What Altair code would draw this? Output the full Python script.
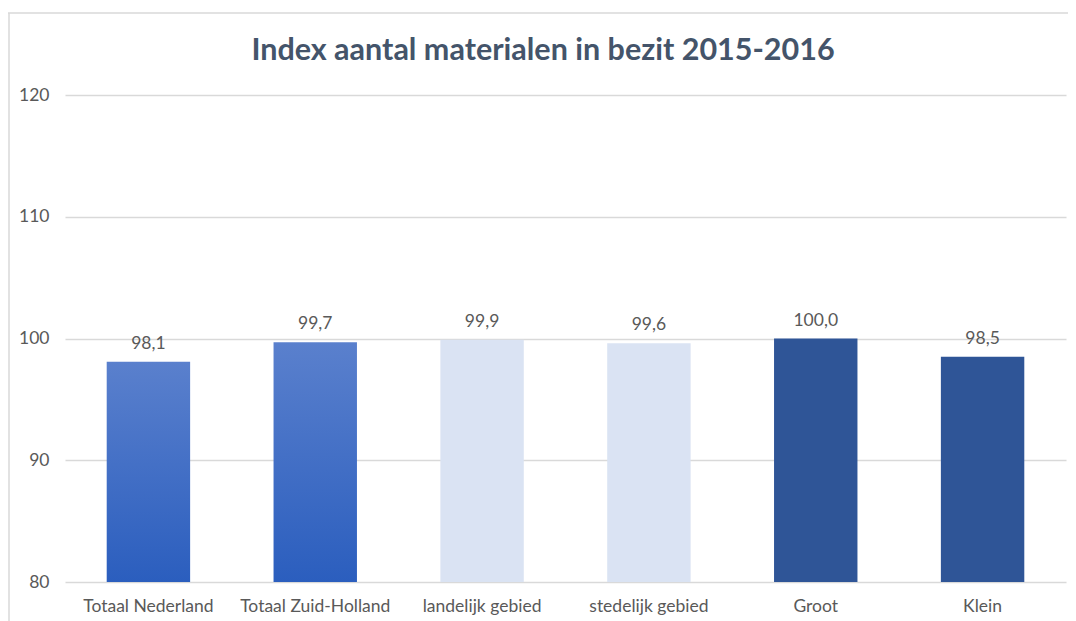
import altair as alt
import pandas as pd

title_text = "Index aantal materialen in bezit 2015-2016"
categories = ["Totaal Nederland", "Totaal Zuid-Holland", "landelijk gebied",
              "stedelijk gebied", "Groot", "Klein"]
values = [98.1, 99.7, 99.9, 99.6, 100.0, 98.5]
groups = ["totaal", "totaal", "gebied", "gebied", "grootte", "grootte"]
y_ticks = [80, 90, 100, 110, 120]

df = pd.DataFrame({"categorie": categories, "index": values, "groep": groups})

FONT = "Lato"
LABEL_COLOR = "#595959"

x_enc = alt.X("categorie:N", sort=categories, title=None,
              scale=alt.Scale(paddingInner=0.5, paddingOuter=0.25),
              axis=alt.Axis(labelAngle=0, labelFont=FONT, labelFontSize=17.5,
                            labelColor=LABEL_COLOR, labelPadding=15,
                            domain=False, ticks=False, grid=False))
y_enc = alt.Y("index:Q", title=None,
              scale=alt.Scale(domain=[80, 120], nice=False, zero=False),
              axis=alt.Axis(values=y_ticks, labelFont=FONT, labelFontSize=17.5,
                            labelColor=LABEL_COLOR, labelPadding=16,
                            domain=False, ticks=False, grid=True,
                            gridColor="#D9D9D9", gridWidth=1.3))

base = alt.Chart(df).encode(x=x_enc)

gradient = alt.Gradient(
    gradient="linear",
    stops=[alt.GradientStop(color="#5A80CD", offset=0),
           alt.GradientStop(color="#2B5EBE", offset=1)],
    x1=0, x2=0, y1=0, y2=1)

bars_grad = base.transform_filter(alt.datum.groep == "totaal").mark_bar(
    color=gradient).encode(y=y_enc, y2=alt.datum(80))
bars_light = base.transform_filter(alt.datum.groep == "gebied").mark_bar(
    color="#DAE3F3").encode(y=y_enc, y2=alt.datum(80))
bars_dark = base.transform_filter(alt.datum.groep == "grootte").mark_bar(
    color="#2F5597").encode(y=y_enc, y2=alt.datum(80))

labels = base.transform_calculate(
    lbl="replace(format(datum.index, '.1f'), '.', ',')"
).mark_text(font=FONT, fontSize=17.5, color=LABEL_COLOR,
            baseline="alphabetic", dy=-13).encode(
    y=alt.Y("index:Q", scale=alt.Scale(domain=[80, 120], nice=False, zero=False)),
    text="lbl:N")

title_df = pd.DataFrame({"t": [title_text]})
title = alt.Chart(title_df).mark_text(
    font=FONT, fontSize=30.5, fontWeight="bold", color="#44546A",
    align="center", baseline="alphabetic").encode(
    x=alt.value(478), y=alt.value(-35), text="t:N")

border_top = alt.Chart(title_df).mark_rule(color="#D9D9D9", strokeWidth=1.5).encode(
    x=alt.value(-57), x2=alt.value(1011), y=alt.value(-82))
border_left = alt.Chart(title_df).mark_rule(color="#D9D9D9", strokeWidth=1.5).encode(
    x=alt.value(-56), y=alt.value(-82), y2=alt.value(540))

chart = alt.layer(border_top, border_left, bars_grad, bars_light, bars_dark,
                  labels, title).properties(
    width=1001, height=487,
    autosize=alt.AutoSizeParams(type="none"),
    padding={"left": 57, "top": 87, "right": 2, "bottom": 50},
).configure_view(stroke=None)

chart.save("out.html", embed_options={"renderer": "svg", "actions": False})
